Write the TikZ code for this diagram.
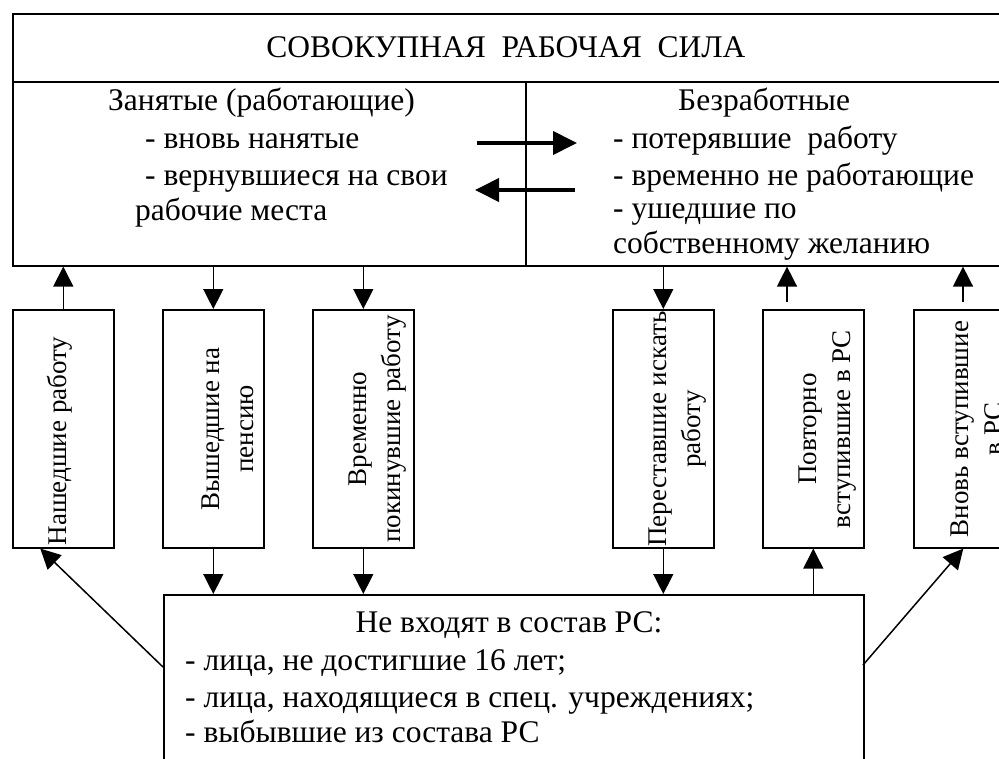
\documentclass[tikz,border=0pt]{standalone}
\usepackage{fontspec}
\setmainfont{Liberation Serif}
\usetikzlibrary{arrows.meta}
\tikzset{
  box/.style={draw, line width=1.6pt, inner sep=0pt},
  arr/.style={line width=1.5pt, -{Triangle[length=20pt,width=20pt]}},
  thickarr/.style={line width=4pt, -{Triangle[length=24pt,width=23pt]}},
  htext/.style={inner sep=0pt, font=\fontsize{31.5}{37}\selectfont},
  vtext/.style={inner sep=0pt, rotate=90, align=center, font=\fontsize{27}{34}\selectfont},
}
\begin{document}
\begin{tikzpicture}[x=1pt,y=-1pt]
\useasboundingbox (0,0) rectangle (999,758);
\clip (0,0) rectangle (999,758);
% main box
\node[box, minimum width=1010pt, minimum height=252pt, anchor=north west] (main) at (12,13) {};
\draw[line width=1.6pt] ([yshift=-69pt]main.north west) coordinate (sepL) -- ([yshift=-69pt]main.north east) coordinate (sepR);
\coordinate (divT) at (526,82);
\draw[line width=1.6pt] (divT) -- (divT |- main.south);
% title and texts
\node[htext, anchor=base] (title) at (506,57) {СОВОКУПНАЯ\ \ РАБОЧАЯ\ \ СИЛА};
\node[htext, anchor=base west] (emp) at (108,110) {Занятые\ (работающие)};
\node[htext, anchor=base west] (e1) at (145,148) {- вновь нанятые};
\node[htext, anchor=base west] (e2) at (145,185) {- вернувшиеся на свои};
\node[htext, anchor=base west] (e3) at (135,220) {рабочие места};
\node[htext, anchor=base west] (unemp) at (678,110) {Безработные};
\node[htext, anchor=base west] (u1) at (613,148) {- потерявшие\ \ работу};
\node[htext, anchor=base west] (u2) at (613,185) {- временно не работающие};
\node[htext, anchor=base west] (u3) at (613,218) {- ушедшие по};
\node[htext, anchor=base west] (u4) at (613,253) {собственному желанию};
% thick arrows
\coordinate (ra1) at (477,143); \coordinate (ra2) at (577,143);
\coordinate (la1) at (575,190); \coordinate (la2) at (475,190);
\draw[thickarr] (ra1) -- (ra2);
\draw[thickarr] (la1) -- (la2);
% vertical boxes
\foreach \n/\x in {b1/12, b2/162, b3/312, b4/612, b5/762, b6/913}{
  \node[box, minimum width=101pt, minimum height=238pt, anchor=north west] (\n) at (\x,309) {};
}
\node[vtext] (t1) at (60,441) {Нашедшие работу};
\node[vtext] (t2) at (228,429) {Вышедшие на\\пенсию};
\node[vtext] (t3) at (378,429) {Временно\\покинувшие работу};
\node[vtext] (t4) at (678,429) {Переставшие искать\\работу};
\node[vtext] (t5) at (828,429) {Повторно\\вступившие в РС};
\node[vtext] (t6) at (977,429) {Вновь вступившие\\в РС};
% bottom box
\node[box, minimum width=700pt, minimum height=200pt, anchor=north west] (bot) at (163,594) {};
\node[htext, anchor=base] (n0) at (509,632) {Не входят в состав РС:};
\node[htext, anchor=base west] (n1) at (185,670) {- лица, не достигшие 16 лет;};
\node[htext, anchor=base west] (n2) at (185,707) {- лица, находящиеся в спец. учреждениях;};
\node[htext, anchor=base west] (n3) at (185,742) {- выбывшие из состава РС};
% arrows top
\draw[arr] ([xshift=0pt]b1.north) -- (b1.north |- main.south);
\draw[arr] (b2.north |- main.south) -- (b2.north);
\draw[arr] (b3.north |- main.south) -- (b3.north);
\draw[arr] (b4.north |- main.south) -- (b4.north);
\coordinate (b5up) at (787,302);
\coordinate (b6up) at (963,302);
\draw[arr] (b5up) -- (b5up |- main.south);
\draw[arr] (b6up) -- (b6up |- main.south);
% arrows bottom
\draw[arr] (b2.south) -- (b2.south |- bot.north);
\draw[arr] (b3.south) -- (b3.south |- bot.north);
\draw[arr] (b4.south) -- (b4.south |- bot.north);
\draw[arr] (b5.south |- bot.north) -- (b5.south);
\coordinate (botL) at (163,667);
\coordinate (botR) at (863,665);
\draw[arr] (botL) -- ([xshift=-23pt]b1.south);
\draw[arr] (botR) -- ([xshift=-1pt]b6.south);
\end{tikzpicture}
\end{document}
